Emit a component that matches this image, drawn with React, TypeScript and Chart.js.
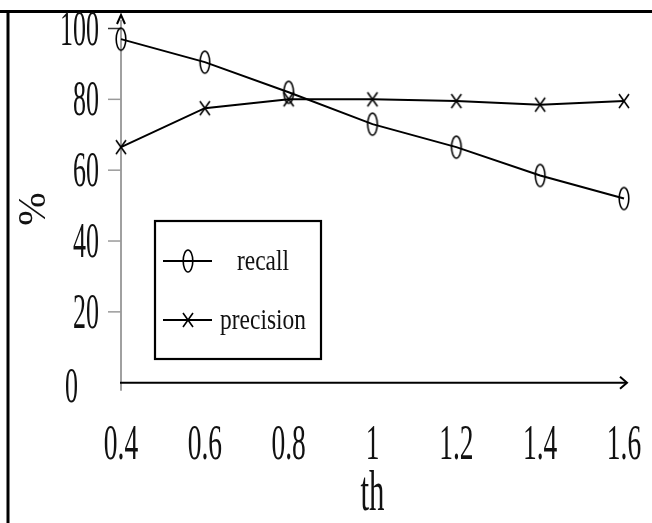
import React, { useEffect, useRef } from "react";
import { Chart, registerables } from "chart.js";

Chart.register(...registerables);

const thLabels = ["0.4", "0.6", "0.8", "1", "1.2", "1.4", "1.6"];
const recall = [97, 90.5, 82, 73, 66.5, 58.5, 52];
const precision = [66.5, 77.5, 80, 80, 79.5, 78.5, 79.5];
const yTickValues = [0, 20, 40, 60, 80, 100];
const seriesNames = ["recall", "precision"];
const xTitle = "th";
const yTitle = "%";

const FONT = '"Liberation Serif", "DejaVu Serif", serif';

function makeEllipse(): HTMLCanvasElement {
  const c = document.createElement("canvas");
  c.width = 14;
  c.height = 28;
  const g = c.getContext("2d")!;
  g.strokeStyle = "#000";
  g.lineWidth = 1.6;
  g.beginPath();
  g.ellipse(7, 14, 4.8, 11, 0, 0, Math.PI * 2);
  g.stroke();
  return c;
}

function makeCross(): HTMLCanvasElement {
  const c = document.createElement("canvas");
  c.width = 14;
  c.height = 18;
  const g = c.getContext("2d")!;
  g.strokeStyle = "#000";
  g.lineWidth = 1.6;
  g.beginPath();
  g.moveTo(2, 2);
  g.lineTo(12, 16);
  g.moveTo(12, 2);
  g.lineTo(2, 16);
  g.stroke();
  return c;
}

function drawText(
  ctx: CanvasRenderingContext2D,
  s: string,
  x: number,
  y: number,
  size: number,
  sx: number,
  align: CanvasTextAlign,
  rot = 0
) {
  ctx.save();
  ctx.translate(x, y);
  if (rot) ctx.rotate(rot);
  ctx.scale(sx, 1);
  ctx.font = `${size}px ${FONT}`;
  ctx.textAlign = align;
  ctx.textBaseline = "alphabetic";
  ctx.fillStyle = "#111";
  ctx.fillText(s, 0, 0);
  ctx.restore();
}

export default function App() {
  const ref = useRef<HTMLCanvasElement | null>(null);

  useEffect(() => {
    document.body.style.margin = "0";
    const canvas = ref.current!;
    const ellipse = makeEllipse();
    const cross = makeCross();

    const decor = {
      id: "decor",
      beforeDatasetsDraw(chart: any) {
        const ctx: CanvasRenderingContext2D = chart.ctx;
        const { left, right, bottom } = chart.chartArea;
        const xs = chart.scales.x;
        const ys = chart.scales.y;
        ctx.save();
        // frame
        ctx.fillStyle = "#000";
        ctx.fillRect(0, 10, 652, 3);
        ctx.fillRect(6.5, 10, 3, 513);

        // y axis
        ctx.strokeStyle = "#a0a0a0";
        ctx.lineWidth = 2;
        ctx.beginPath();
        ctx.moveTo(left, bottom + 8);
        ctx.lineTo(left, 20);
        ctx.stroke();
        ctx.strokeStyle = "#000";
        ctx.lineWidth = 2;
        ctx.beginPath();
        ctx.moveTo(left - 4, 24);
        ctx.lineTo(left, 15);
        ctx.lineTo(left + 4, 24);
        ctx.stroke();

        // y ticks + labels
        ys.ticks.forEach((t: any) => {
          const y = ys.getPixelForValue(t.value);
          if (t.value !== 0) {
            ctx.strokeStyle = t.value === 100 ? "#333" : "#9a9a9a";
            ctx.lineWidth = 1.5;
            ctx.beginPath();
            ctx.moveTo(left - 13, y);
            ctx.lineTo(left, y);
            ctx.stroke();
            drawText(ctx, String(t.value), 99, y + 16, 50, 0.52, "right");
          } else {
            drawText(ctx, String(t.value), 78, y + 19, 50, 0.52, "right");
          }
        });

        // x axis
        ctx.strokeStyle = "#000";
        ctx.lineWidth = 2;
        ctx.beginPath();
        ctx.moveTo(left - 1, bottom);
        ctx.lineTo(right + 2, bottom);
        ctx.stroke();
        ctx.beginPath();
        ctx.moveTo(right - 4, bottom - 6);
        ctx.lineTo(right + 3, bottom);
        ctx.lineTo(right - 4, bottom + 6);
        ctx.stroke();

        // x labels
        thLabels.forEach((lab, i) => {
          const x = xs.getPixelForValue(i);
          drawText(ctx, lab, x, 459, 50, 0.55, "center");
        });

        // titles
        drawText(ctx, xTitle, (left + right) / 2, 510, 56, 0.55, "center");
        drawText(ctx, yTitle, 45, 209, 40, 1.0, "center", -Math.PI / 2);
        ctx.restore();
      },
      afterDatasetsDraw(chart: any) {
        const ctx: CanvasRenderingContext2D = chart.ctx;
        ctx.save();
        const bx = 155, by = 221, bw = 166, bh = 138;
        ctx.fillStyle = "#fff";
        ctx.fillRect(bx, by, bw, bh);
        ctx.strokeStyle = "#000";
        ctx.lineWidth = 2.2;
        ctx.strokeRect(bx, by, bw, bh);
        const rows = [261, 320];
        const marks = [ellipse, cross];
        seriesNames.forEach((name, i) => {
          const y = rows[i];
          ctx.strokeStyle = "#000";
          ctx.lineWidth = 2;
          ctx.beginPath();
          ctx.moveTo(163, y);
          ctx.lineTo(212, y);
          ctx.stroke();
          const m = marks[i];
          ctx.drawImage(m, 188 - m.width / 2, y - m.height / 2);
          drawText(ctx, name, 263, y + 9, 30, 0.78, "center");
        });
        ctx.restore();
      },
    };

    const chart = new Chart(canvas, {
      type: "line",
      data: {
        labels: thLabels,
        datasets: [
          {
            label: seriesNames[0],
            data: recall,
            borderColor: "#000",
            borderWidth: 2,
            pointStyle: ellipse as any,
            pointRadius: 6,
            fill: false,
            tension: 0,
            clip: false as any,
          },
          {
            label: seriesNames[1],
            data: precision,
            borderColor: "#000",
            borderWidth: 2,
            pointStyle: cross as any,
            pointRadius: 6,
            fill: false,
            tension: 0,
            clip: false as any,
          },
        ],
      },
      options: {
        responsive: false,
        animation: false,
        devicePixelRatio: 1,
        layout: { padding: { left: 121, right: 28, top: 28.5, bottom: 140.3 } },
        plugins: {
          legend: { display: false },
          tooltip: { enabled: false },
        },
        scales: {
          x: { type: "category", display: false, offset: false },
          y: {
            type: "linear",
            display: false,
            min: 0,
            max: 100,
            afterBuildTicks: (s: any) => {
              s.ticks = yTickValues.map((v) => ({ value: v }));
            },
          },
        },
      },
      plugins: [decor],
    });
    return () => chart.destroy();
  }, []);

  return (
    <canvas
      ref={ref}
      width={652}
      height={523}
      style={{ display: "block", width: 652, height: 523 }}
    />
  );
}
